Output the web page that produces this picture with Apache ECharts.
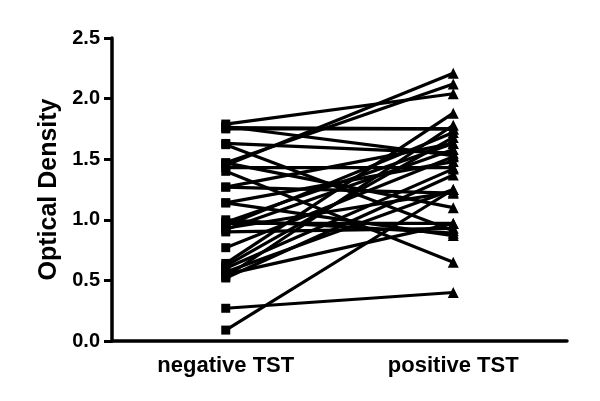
<!DOCTYPE html>
<html>
<head>
<meta charset="utf-8">
<script src="https://cdn.jsdelivr.net/npm/echarts@6/dist/echarts.min.js"></script>
<style>html,body{margin:0;padding:0;background:#fff;}#c{width:600px;height:401px;}</style>
</head>
<body>
<div id="c"></div>
<script>
var categories = ['negative TST', 'positive TST'];
var negTST = [1.79, 1.76, 1.75, 1.77, 1.63, 1.62, 1.47, 1.45, 1.43, 1.40, 1.47, 1.27, 1.27, 1.14, 1.14, 0.97, 0.95, 0.93, 0.92, 0.90, 0.77, 0.64, 0.62, 0.60, 0.57, 0.55, 0.53, 0.52, 0.27, 0.09, 0.98, 1.00];
var posTST = [2.04, 1.75, 1.75, 1.53, 1.55, 0.91, 2.12, 2.21, 1.43, 0.65, 1.10, 1.22, 1.63, 0.87, 1.48, 0.97, 1.72, 1.23, 1.58, 0.93, 1.52, 1.88, 1.68, 1.42, 1.25, 0.97, 1.78, 1.37, 0.40, 1.25, 1.63, 0.89];
var yTicks = [0, 0.5, 1.0, 1.5, 2.0, 2.5];

var series = negTST.map(function (n, i) {
  return {
    type: 'line',
    data: [
      { value: n, symbol: 'rect', symbolSize: 9 },
      { value: posTST[i], symbol: 'triangle', symbolSize: 11 }
    ],
    lineStyle: { color: '#000', width: 3.2 },
    itemStyle: { color: '#000' },
    showAllSymbol: true,
    animation: false,
    silent: true
  };
});

var chart = echarts.init(document.getElementById('c'), null, { renderer: 'canvas' });
chart.setOption({
  backgroundColor: '#fff',
  animation: false,
  grid: { left: 112, right: 33, top: 38, bottom: 60, containLabel: false },
  xAxis: {
    type: 'category',
    data: categories,
    boundaryGap: true,
    axisLine: { lineStyle: { color: '#000', width: 3.5 } },
    axisTick: { alignWithLabel: true, length: 7, lineStyle: { color: '#000', width: 3 } },
    axisLabel: { color: '#000', fontFamily: 'Liberation Sans', fontWeight: 'bold', fontSize: 22, margin: 14 }
  },
  yAxis: {
    type: 'value',
    min: yTicks[0],
    max: yTicks[yTicks.length - 1],
    interval: 0.5,
    name: 'Optical Density',
    nameLocation: 'middle',
    nameGap: 49,
    nameTextStyle: { color: '#000', fontFamily: 'Liberation Sans', fontWeight: 'bold', fontSize: 25 },
    splitLine: { show: false },
    axisLine: { show: true, lineStyle: { color: '#000', width: 3.5 } },
    axisTick: { show: true, length: 8, lineStyle: { color: '#000', width: 3 } },
    axisLabel: {
      color: '#000', fontFamily: 'Liberation Sans', fontWeight: 'bold', fontSize: 20, margin: 12,
      formatter: function (v) { return v.toFixed(1); }
    }
  },
  series: series
});
</script>
</body>
</html>
